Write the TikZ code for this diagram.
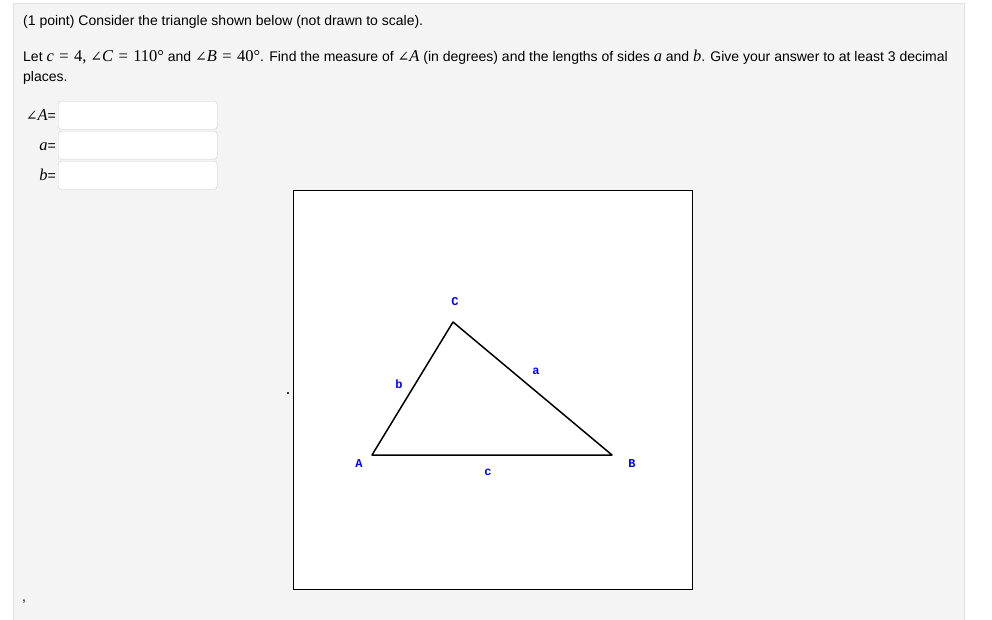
\documentclass[tikz,border=0pt]{standalone}
\usepackage{fontspec}
\setmainfont{Liberation Sans}
\setmonofont{Liberation Mono}
\newfontfamily\mathserif{Liberation Serif}
\newfontfamily\anglefont{DejaVu Serif}
\usetikzlibrary{positioning}
\definecolor{panelgray}{HTML}{F4F4F4}
\definecolor{panelline}{HTML}{E2E2E2}
\definecolor{fieldline}{HTML}{CDCDCD}
% inline "math" set in a Times-like serif
\newcommand\mv[1]{{\mathserif\fontsize{16.5}{20}\selectfont\itshape #1}}
\newcommand\mn[1]{{\mathserif\fontsize{16.5}{20}\selectfont #1}}
\newcommand\eq{\mn{\hspace{0.33em}=\hspace{0.33em}}}
\newcommand\ang{{\anglefont\fontsize{14}{20}\selectfont ∠}}
\tikzset{
question/.style={x=1pt, y=-1pt, font=\fontsize{14}{20}\selectfont},
prose/.style={anchor=base west, inner sep=0pt},
answerbox/.style={draw=fieldline, fill=white, rounded corners=3pt, minimum width=159pt, minimum height=28pt, anchor=north west, inner sep=0pt},
fieldlabel/.style={anchor=base east, inner sep=0pt, font=\fontsize{14}{16}\selectfont},
vertex/.style={text=blue, inner sep=0pt, font=\ttfamily\bfseries\fontsize{12}{12}\selectfont},
side/.style={line width=1.5pt, line join=round},
}

\begin{document}
\begin{tikzpicture}[question]
\useasboundingbox (0,0) rectangle (992,619);
\draw[draw=panelline, fill=panelgray] (13.5,3.5) rectangle (964.5,630);
%
\node[prose] (intro) at (23,25) {(1 point) Consider the triangle shown below (not drawn to scale).};
\node[prose] (task) at (23,61) {Let \mv{c}\eq\mn{4,} \ang\mv{C}\eq\mn{110°} and \ang\mv{B}\eq\mn{40°}. Find the measure of \ang\mv{A} (in degrees) and the lengths of sides \mv{a} and \mv{b}. Give your answer to at least 3 decimal};
\node[prose] (task2) at (23,81) {places.};
%
\node[answerbox] (fieldA) at (58,101) {};
\node[answerbox] (fielda) at (58,131) {};
\node[answerbox] (fieldb) at (58,161) {};
\node[fieldlabel] (labA) at (56,120) {\ang\mv{A}=};
\node[fieldlabel] (laba) at (56,150) {\mv{a}=};
\node[fieldlabel] (labb) at (56,180) {\mv{b}=};
%
\draw[fill=white, line width=0.9pt] (293.5,190.5) rectangle (692.5,589.5);
\fill[black!80] (286.5,391.5) rectangle (288.5,393.5);
\node[inner sep=0pt] (comma) at (24,602) {,};
%
\coordinate (A) at (372,455);
\coordinate (B) at (612,455);
\coordinate (C) at (453,322);
\draw[side] (A) -- (B) -- (C) -- cycle;
%
\node[vertex] (labelA) at (359,464) {A};
\node[vertex] (labelB) at (632,464) {B};
\node[vertex] (labelC) at (455,302) {C};
\node[vertex] (labela) at (536,371) {a};
\node[vertex] (labelb) at (399,384) {b};
\node[vertex] (labelc) at (488,472) {c};
\end{tikzpicture}
\end{document}
